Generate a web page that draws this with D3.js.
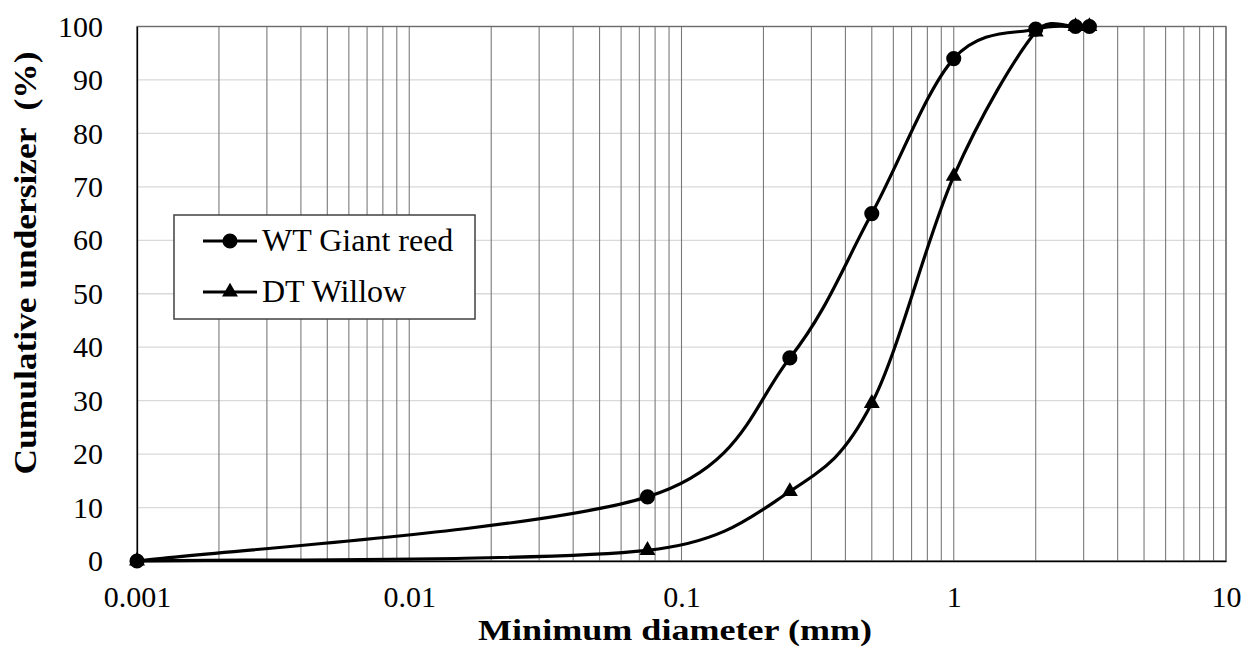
<!DOCTYPE html>
<html>
<head>
<meta charset="utf-8">
<script src="https://cdn.jsdelivr.net/npm/d3@7"></script>
<style>
  body { margin: 0; background: #fff; }
  svg, svg text { font-family: "Liberation Serif", "Times New Roman", Tinos, "DejaVu Serif", serif; }
  svg { display: block; }
</style>
</head>
<body>
<svg width="1257" height="655"></svg>
<script>
(function () {

  // sieve sizes (mm) and cumulative undersize (%)
  var diameters = [0.001, 0.075, 0.25, 0.5, 1, 2, 2.8, 3.15]
  var giantReed = [0, 12, 38, 65, 94, 99.5, 100, 100]
  var willow = [0, 2, 13, 29.5, 72, 99, 100, 100]

  var xTicks = [0.001, 0.01, 0.1, 1, 10]
  var xTickLabels = ['0.001', '0.01', '0.1', '1', '10']
  var yTicks = [0, 10, 20, 30, 40, 50, 60, 70, 80, 90, 100]

  var series = [
    { name: 'WT Giant reed', values: giantReed, symbol: d3.symbolCircle, size: 180 },
    { name: 'DT Willow', values: willow, symbol: d3.symbolTriangle, size: 110 }
  ]

  var serif = '"Liberation Serif", "Times New Roman", Tinos, "DejaVu Serif", serif'
  var left = 137, right = 1226, top = 26.5, bottom = 561

  var x = d3.scaleLog().domain([0.001, 10]).range([left, right])
  var y = d3.scaleLinear().domain([0, 100]).range([bottom, top])

  var svg = d3.select('svg')

  // horizontal gridlines (light)
  svg.append('g')
    .selectAll('line')
    .data(yTicks)
    .enter().append('line')
    .attr('x1', left).attr('x2', right)
    .attr('y1', d => y(d)).attr('y2', d => y(d))
    .attr('stroke', '#d9d9d9')
    .attr('stroke-width', 1.3)

  // vertical gridlines, every 1..9 of each decade
  svg.append('g')
    .selectAll('line')
    .data(x.ticks())
    .enter().append('line')
    .attr('x1', d => x(d)).attr('x2', d => x(d))
    .attr('y1', top).attr('y2', bottom)
    .attr('stroke', '#7a7a7a')
    .attr('stroke-width', 1.1)

  // plot border
  svg.append('rect')
    .attr('x', left).attr('y', top)
    .attr('width', right - left).attr('height', bottom - top)
    .attr('fill', 'none')
    .attr('stroke', '#6a6a6a')
    .attr('stroke-width', 1.3)

  // axes
  var xAxis = d3.axisBottom(x)
    .tickValues(xTicks)
    .tickFormat((d, i) => xTickLabels[i])
    .tickSize(0)
    .tickPadding(25)

  svg.append('g')
    .attr('transform', 'translate(0,' + bottom + ')')
    .call(xAxis)
    .attr('font-family', serif)
    .attr('font-size', 30)
    .call(g => g.select('.domain').attr('stroke', '#000').attr('stroke-width', 1.3))
    .selectAll('text')
    .attr('fill', '#000')

  var yAxis = d3.axisLeft(y)
    .tickValues(yTicks)
    .tickSize(0)
    .tickPadding(34)

  svg.append('g')
    .attr('transform', 'translate(' + left + ',0)')
    .call(yAxis)
    .attr('font-family', serif)
    .attr('font-size', 30)
    .call(g => g.select('.domain').attr('stroke', '#000').attr('stroke-width', 1.3))
    .selectAll('text')
    .attr('fill', '#000')

  // axis titles
  svg.append('text')
    .attr('x', 675).attr('y', 640)
    .attr('text-anchor', 'middle')
    .attr('font-size', 30)
    .attr('font-weight', 'bold')
    .attr('textLength', 394)
    .attr('lengthAdjust', 'spacingAndGlyphs')
    .text('Minimum diameter (mm)')

  svg.append('text')
    .attr('transform', 'translate(36,263) rotate(-90)')
    .attr('text-anchor', 'middle')
    .attr('font-size', 32)
    .attr('font-weight', 'bold')
    .attr('textLength', 423)
    .attr('lengthAdjust', 'spacingAndGlyphs')
    .style('white-space', 'pre')
    .text('Cumulative undersizer  (%)')

  // Excel-style smoothed line: catmull-rom tangents (1/6), capped at half the segment
  function smoothPath(pts) {
    var p = d3.path()
    var n = pts.length
    function dist(a, b) { return Math.hypot(b[0] - a[0], b[1] - a[1]) }
    p.moveTo(pts[0][0], pts[0][1])
    for (var i = 0; i < n - 1; i++) {
      var p0 = pts[Math.max(i - 1, 0)], p1 = pts[i], p2 = pts[i + 1], p3 = pts[Math.min(i + 2, n - 1)]
      var half = dist(p1, p2) / 2
      var t1 = [(p2[0] - p0[0]) / 6, (p2[1] - p0[1]) / 6]
      var t2 = [(p3[0] - p1[0]) / 6, (p3[1] - p1[1]) / 6]
      var l1 = Math.hypot(t1[0], t1[1]), l2 = Math.hypot(t2[0], t2[1])
      if (l1 > half) { t1 = [t1[0] * half / l1, t1[1] * half / l1] }
      if (l2 > half) { t2 = [t2[0] * half / l2, t2[1] * half / l2] }
      p.bezierCurveTo(p1[0] + t1[0], p1[1] + t1[1], p2[0] - t2[0], p2[1] - t2[1], p2[0], p2[1])
    }
    return p.toString()
  }

  series.forEach(function (s) {
    var pts = diameters.map((d, i) => [d, s.values[i]])
    var px = pts.map(d => [x(d[0]), y(d[1])])
    svg.append('path')
      .attr('d', smoothPath(px))
      .attr('fill', 'none')
      .attr('stroke', '#000')
      .attr('stroke-width', 3.2)

    svg.append('g')
      .selectAll('path')
      .data(pts)
      .enter().append('path')
      .attr('d', d3.symbol().type(s.symbol).size(s.size))
      .attr('transform', d => 'translate(' + x(d[0]) + ',' + y(d[1]) + ')')
      .attr('fill', '#000')
  })

  // legend
  var legend = svg.append('g')
  legend.append('rect')
    .attr('x', 174).attr('y', 215)
    .attr('width', 301).attr('height', 104)
    .attr('fill', '#fff')
    .attr('stroke', '#404040')
    .attr('stroke-width', 1.5)

  var legendY = [241, 292]
  series.forEach(function (s, i) {
    legend.append('line')
      .attr('x1', 203).attr('x2', 257)
      .attr('y1', legendY[i]).attr('y2', legendY[i])
      .attr('stroke', '#000')
      .attr('stroke-width', 3.2)
    legend.append('path')
      .attr('d', d3.symbol().type(s.symbol).size(s.size))
      .attr('transform', 'translate(230,' + legendY[i] + ')')
      .attr('fill', '#000')
    legend.append('text')
      .attr('x', 262).attr('y', legendY[i] + 10)
      .attr('font-family', serif)
      .attr('font-size', 32)
      .text(s.name)
  })

})()
</script>
</body>
</html>
